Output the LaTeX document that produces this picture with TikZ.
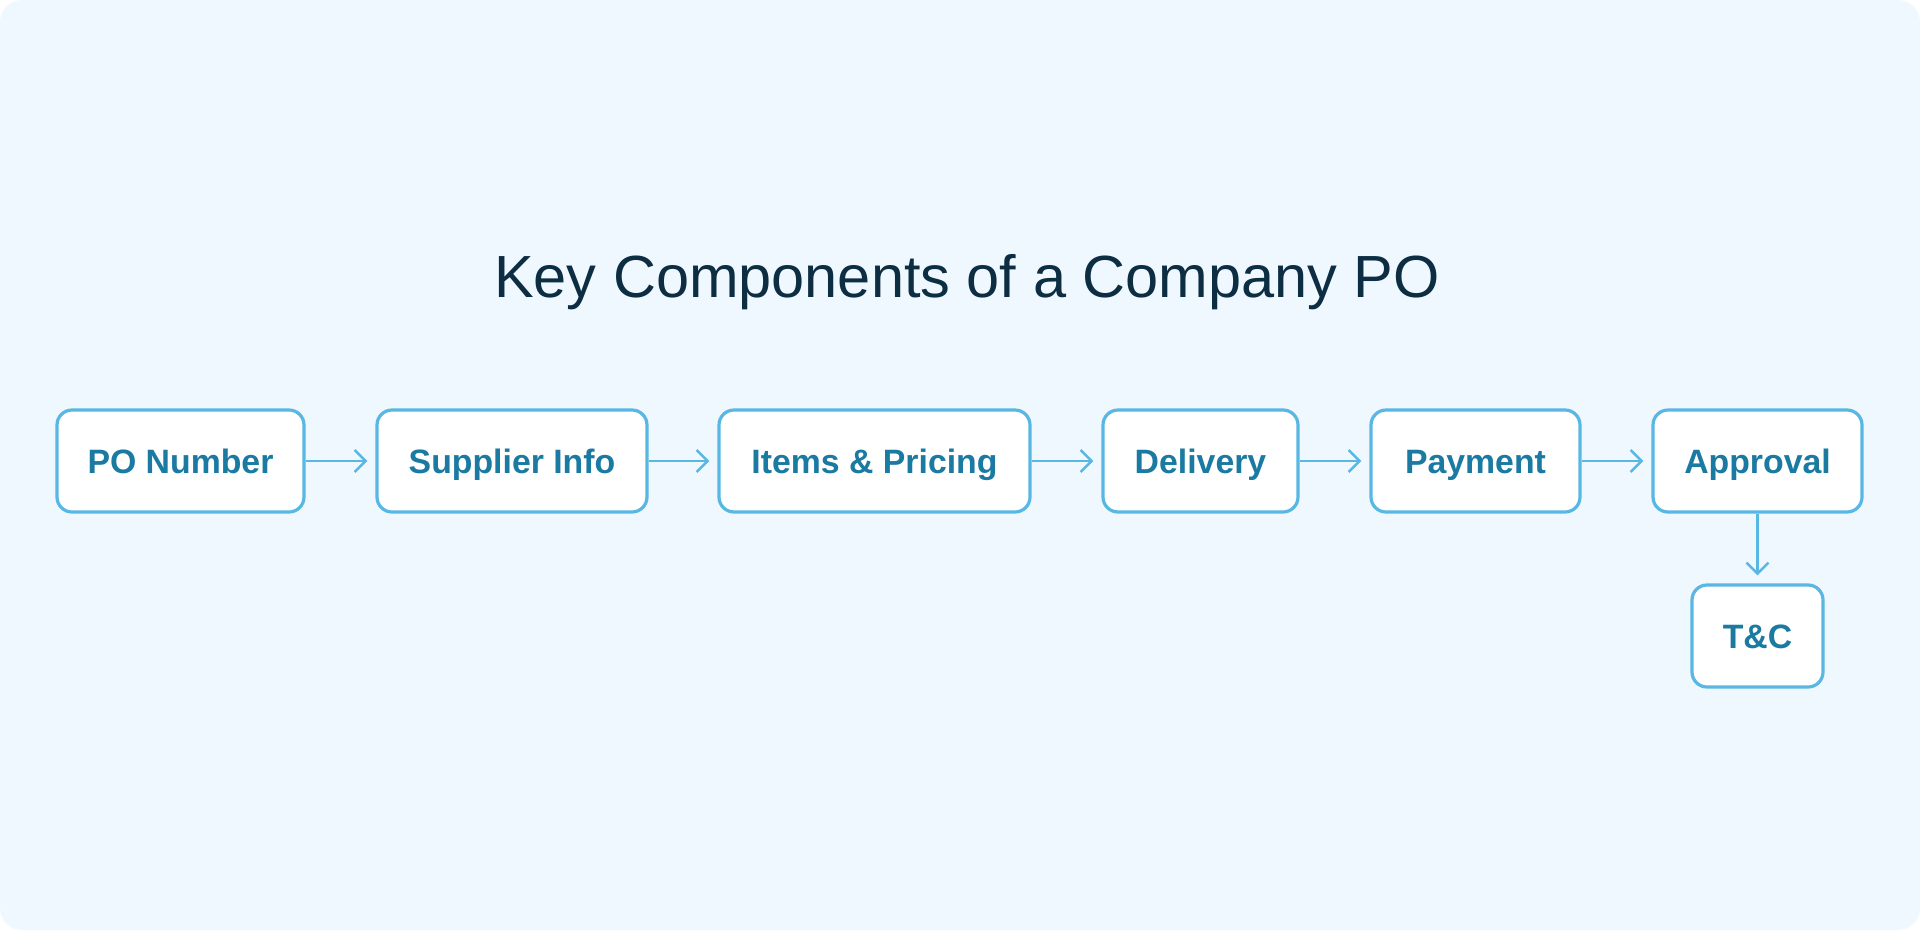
\documentclass[tikz,border=0pt]{standalone}
\usepackage{fontspec}
\setmainfont{Liberation Sans}
\usetikzlibrary{arrows.meta}
\definecolor{pagebg}{HTML}{F0F8FF}
\definecolor{edgeblue}{HTML}{58B7E3}
\definecolor{labelblue}{HTML}{1A7AA2}
\definecolor{titlenavy}{HTML}{0C2D42}
\begin{document}
\begin{tikzpicture}[x=1pt,y=-1pt,
    box/.style={draw=edgeblue,line width=3.2pt,fill=white,rounded corners=15pt,
        minimum height=102pt,inner sep=0pt,text height=24pt,text depth=0pt,
        text=labelblue,font=\fontsize{33.8}{40}\selectfont\bfseries},
    link/.style={draw=edgeblue,line width=2.5pt,shorten >=8pt,
        -{Straight Barb[length=11pt,width=22pt,line width=2.5pt]}}]
                % page
                \fill[white] (0,0) rectangle (1920,930);
                \fill[pagebg,rounded corners=22pt] (0,0) rectangle (1920,930);
                \node[anchor=base,text=titlenavy,font=\fontsize{59.5}{66}\selectfont] (title) at (967,297) {Key Components of a Company PO};
                % components
                \node[box,minimum width=247pt] (po) at (180.5,461) {PO Number};
                \node[box,minimum width=270pt] (supplier) at (512,461) {Supplier Info};
                \node[box,minimum width=311pt] (items) at (874.5,461) {Items \& Pricing};
                \node[box,minimum width=195pt] (delivery) at (1200.5,461) {Delivery};
                \node[box,minimum width=209pt] (payment) at (1475.5,461) {Payment};
                \node[box,minimum width=209pt] (approval) at (1757.5,461) {Approval};
                \node[box,minimum width=131pt] (tc) at (1757.5,636) {T\&C};
                % links
                \draw[link] (po) -- (supplier);
                \draw[link] (supplier) -- (items);
                \draw[link] (items) -- (delivery);
                \draw[link] (delivery) -- (payment);
                \draw[link] (payment) -- (approval);
                \draw[link] (approval) -- (tc);
\end{tikzpicture}
\end{document}
